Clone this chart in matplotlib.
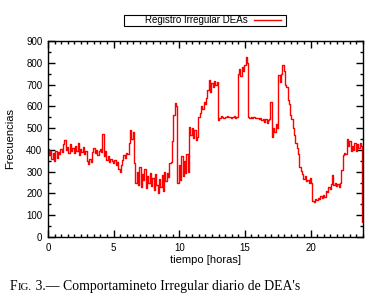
import matplotlib
matplotlib.use('Agg')
import matplotlib.pyplot as plt
import numpy as np
from matplotlib.ticker import MultipleLocator
from matplotlib.patches import Rectangle
from matplotlib.lines import Line2D

# registro cada 0.1 horas, de 0 a 24
h00 = [405, 375, 395, 360, 385, 350, 395, 365, 390, 380]
h01 = [405, 390, 425, 445, 400, 415, 385, 425, 395, 410]
h02 = [385, 420, 395, 430, 375, 405, 390, 415, 380, 395]
h03 = [350, 335, 360, 345, 390, 410, 385, 400, 375, 395]
h04 = [405, 390, 475, 370, 395, 355, 370, 345, 360, 350]
h05 = [340, 355, 330, 345, 310, 300, 330, 355, 375, 365]
h06 = [385, 380, 430, 490, 450, 480, 340, 250, 300, 240]
h07 = [320, 230, 290, 260, 310, 225, 280, 250, 295, 235]
h08 = [270, 215, 290, 240, 200, 265, 230, 285, 210, 300]
h09 = [255, 295, 275, 340, 345, 440, 560, 615, 600, 250]
h10 = [330, 260, 370, 280, 350, 295, 380, 300, 505, 470]
h11 = [500, 455, 490, 445, 460, 552, 570, 600, 590, 620]
h12 = [610, 640, 675, 720, 665, 705, 690, 715, 700, 713]
h13 = [537, 545, 555, 550, 548, 552, 550, 555, 550, 552]
h14 = [548, 550, 555, 548, 552, 750, 770, 740, 780, 760]
h15 = [790, 828, 800, 552, 548, 550, 545, 550, 548, 545]
h16 = [548, 540, 545, 535, 540, 530, 540, 525, 535, 540]
h17 = [618, 460, 500, 480, 520, 500, 745, 710, 750, 792]
h18 = [760, 700, 690, 630, 610, 560, 540, 500, 470, 430]
h19 = [410, 380, 320, 305, 290, 265, 280, 255, 260, 250]
h20 = [270, 250, 165, 160, 175, 170, 180, 175, 190, 180]
h21 = [195, 185, 210, 205, 230, 220, 245, 285, 240, 250]
h22 = [235, 245, 230, 250, 307, 375, 385, 380, 450, 420]
h23 = [440, 395, 420, 400, 430, 395, 425, 410, 430, 420]
h24 = [70]

frecuencias = (h00 + h01 + h02 + h03 + h04 + h05 + h06 + h07 + h08 + h09 + h10 + h11
               + h12 + h13 + h14 + h15 + h16 + h17 + h18 + h19 + h20 + h21 + h22 + h23 + h24)
tiempo = np.arange(len(frecuencias)) * 0.1

plt.rcParams['font.family'] = ['Liberation Sans', 'DejaVu Sans']

fig = plt.figure(figsize=(3.79, 2.97), dpi=100)
ax = fig.add_axes([0.1266, 0.202, 0.8312, 0.660])
ax.plot(tiempo, frecuencias, color='#ff0000', lw=1.0, drawstyle='steps-mid')
ax.set_xlim(0, 24)
ax.set_ylim(0, 900)
ax.xaxis.set_major_locator(MultipleLocator(5))
ax.xaxis.set_minor_locator(MultipleLocator(0.5))
ax.yaxis.set_major_locator(MultipleLocator(100))
ax.yaxis.set_minor_locator(MultipleLocator(50))
ax.tick_params(which='both', direction='in', top=True, right=True, labelsize=7, width=1.0)
ax.tick_params(which='major', length=5, pad=4)
ax.tick_params(which='minor', length=2.5)
for s in ax.spines.values():
    s.set_linewidth(1.0)
ax.set_xlabel('tiempo [horas]', fontsize=8, labelpad=2)
ax.set_ylabel('Frecuencias', fontsize=8, labelpad=8)

# leyenda estilo gnuplot
fig.patches.append(Rectangle((124 / 379, 1 - 25.5 / 297), 162 / 379, 10.5 / 297,
                             transform=fig.transFigure, fill=False, edgecolor='black', lw=0.8))
fig.text(248 / 379, 1 - 20.3 / 297, 'Registro Irregular DEAs', fontsize=7, ha='right', va='center')
fig.lines.append(Line2D([254 / 379, 281 / 379], [1 - 20.3 / 297] * 2, transform=fig.transFigure,
                        color='#ff0000', lw=1.0))

# pie de figura con versalitas
serif = ['Liberation Serif', 'DejaVu Serif']
ycap = 1 - 290 / 297
fig.canvas.draw()
r = fig.canvas.get_renderer()
x = 10 / 379
for txt, sz in [('F', 9.9), ('IG.', 7.8), (" 3.\u2014 Comportamineto Irregular diario de DEA's", 9.9)]:
    t = fig.text(x, ycap, txt, fontsize=sz, family=serif, va='baseline')
    bb = t.get_window_extent(renderer=r)
    x = bb.x1 / fig.bbox.width

fig.savefig('out.png', dpi=100)
